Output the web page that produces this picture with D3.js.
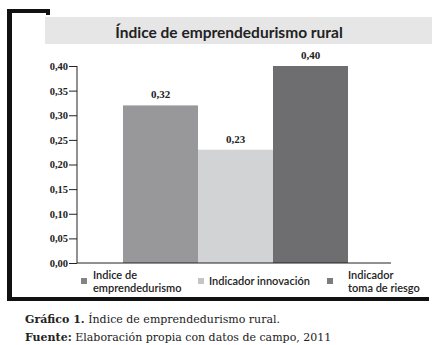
<!DOCTYPE html>
<html>
<head>
<meta charset="utf-8">
<title>Índice de emprendedurismo rural</title>
<style>
	body { margin: 0; background: #fff; }
	svg { display: block; }
</style>
</head>
<body>
<svg width="432" height="345"></svg>
<script src="https://cdn.jsdelivr.net/npm/d3@7"></script>
<script>
	// datos
	const categorias = ["Indice de emprendedurismo", "Indicador innovación", "Indicador toma de riesgo"]
	const valores = [0.32, 0.23, 0.40]
	const colores = ["#98989a", "#d2d3d5", "#6e6e70"]
	const coloresLeyenda = ["#848486", "#c4c5c7", "#7c7c7e"]
	const leyenda = [["Indice de", "emprendedurismo"], ["Indicador innovación"], ["Indicador", "toma de riesgo"]]
	const ticksY = [0, 0.05, 0.10, 0.15, 0.20, 0.25, 0.30, 0.35, 0.40]
	const titulo = "Índice de emprendedurismo rural"

	const svg = d3.select("svg")
	const es = d3.formatLocale({ decimal: ",", thousands: ".", grouping: [3], currency: ["", "€"] })
	const fmt = es.format(".2f")
	const serif = "'Liberation Serif', 'DejaVu Serif', serif"
	const sans = "Lato, 'Open Sans', sans-serif"

	// marco negro
	svg.append("rect").attr("x", 7).attr("y", 9).attr("width", 5).attr("height", 292).attr("fill", "#111")
	svg.append("rect").attr("x", 7).attr("y", 9).attr("width", 43).attr("height", 4).attr("fill", "#111")
	svg.append("rect").attr("x", 46).attr("y", 9).attr("width", 4).attr("height", 6).attr("fill", "#111")
	svg.append("rect").attr("x", 7).attr("y", 297).attr("width", 422).attr("height", 4).attr("fill", "#111")

	// banda del título
	svg.append("rect").attr("x", 45).attr("y", 17).attr("width", 387).attr("height", 27).attr("fill", "#e6e6e7")
	svg.append("text").attr("x", 229).attr("y", 38).attr("text-anchor", "middle")
		.attr("font-family", sans).attr("font-weight", "bold").attr("font-size", 15.5)
		.attr("fill", "#222").text(titulo)

	// escalas
	const y = d3.scaleLinear().domain([0, 0.4]).range([263, 66])
	const x = d3.scaleBand().domain(categorias).range([123, 348]).padding(0)

	// eje y
	const ejeY = svg.append("g").attr("transform", "translate(77,0)")
		.call(d3.axisLeft(y).tickValues(ticksY).tickFormat(fmt).tickSize(8).tickPadding(1))
	ejeY.select(".domain").attr("stroke", "#222").attr("d", `M0,${y(0.4)}V${y(0)}`)
	ejeY.selectAll(".tick line").attr("stroke", "#222")
	ejeY.selectAll(".tick text").attr("font-family", serif).attr("font-weight", "bold")
		.attr("font-size", 10.5).attr("fill", "#222")

	// barras
	svg.selectAll("rect.barra").data(valores).enter().append("rect").attr("class", "barra")
		.attr("x", (d, i) => x(categorias[i]))
		.attr("width", x.bandwidth())
		.attr("y", d => y(d))
		.attr("height", d => y(0) - y(d))
		.attr("fill", (d, i) => colores[i])

	// eje x
	svg.append("line").attr("x1", 77).attr("x2", 391).attr("y1", y(0)).attr("y2", y(0))
		.attr("stroke", "#222")

	// etiquetas de valor
	svg.selectAll("text.valor").data(valores).enter().append("text").attr("class", "valor")
		.attr("x", (d, i) => x(categorias[i]) + x.bandwidth() / 2)
		.attr("y", d => y(d) - 7)
		.attr("text-anchor", "middle")
		.attr("font-family", serif).attr("font-weight", "bold").attr("font-size", 11)
		.attr("fill", "#222").text(d => fmt(d))

	// leyenda
	const posLeyenda = [{ cx: 81, tx: 93 }, { cx: 198, tx: 209 }, { cx: 327, tx: 348 }]
	const gl = svg.append("g")
	leyenda.forEach((lineas, i) => {
		gl.append("rect").attr("x", posLeyenda[i].cx).attr("y", 278).attr("width", 6).attr("height", 6)
			.attr("fill", coloresLeyenda[i])
		const t = gl.append("text").attr("x", posLeyenda[i].tx)
			.attr("y", lineas.length > 1 ? 278.5 : 285)
			.attr("font-family", sans).attr("font-weight", 600).attr("font-size", 11)
			.attr("fill", "#222")
		lineas.forEach((l, j) => {
			t.append("tspan").attr("x", posLeyenda[i].tx).attr("dy", j ? 13 : 0).text(l)
		})
	})

	// pie
	const pie = svg.append("g").attr("font-family", "'DejaVu Serif', serif").attr("font-size", 11)
		.attr("fill", "#222")
	const p1 = pie.append("text").attr("x", 25).attr("y", 323)
	p1.append("tspan").attr("font-weight", "bold").text("Gráfico 1.")
	p1.append("tspan").text(" Índice de emprendedurismo rural.")
	const p2 = pie.append("text").attr("x", 25).attr("y", 341)
	p2.append("tspan").attr("font-weight", "bold").text("Fuente:")
	p2.append("tspan").text(" Elaboración propia con datos de campo, 2011")
</script>
</body>
</html>
